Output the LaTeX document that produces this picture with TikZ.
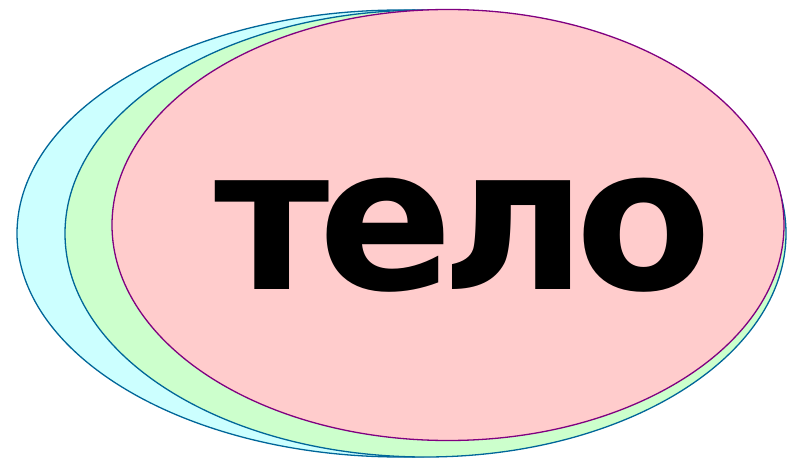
\documentclass[tikz,border=0pt]{standalone}
\usepackage{fontspec}
\setmainfont{DejaVu Sans}
\usetikzlibrary{shapes.geometric}
\definecolor{cyanfill}{HTML}{CCFFFF}
\definecolor{greenfill}{HTML}{CCFFCC}
\definecolor{pinkfill}{HTML}{FFCCCC}
\definecolor{blueline}{HTML}{006699}
\definecolor{purpleline}{HTML}{800080}
\begin{document}
\begin{tikzpicture}[x=1pt,y=1pt,
  blob/.style={line width=1.3pt}]
\useasboundingbox (0,0) rectangle (796,459);
\path[blob,fill=cyanfill,draw=blueline] (401,225.5) ellipse [x radius=384, y radius=223.5];
\path[blob,fill=greenfill,draw=blueline] (425.5,225.5) ellipse [x radius=360.5, y radius=223.5];
\path[blob,fill=pinkfill,draw=purpleline] (448,234) ellipse [x radius=336, y radius=215.5];
\node[inner sep=0pt, anchor=base west] (t) at (214.5,169.5) {\fontsize{199}{199}\selectfont\bfseries\addfontfeature{LetterSpace=-6}тело};
\end{tikzpicture}
\end{document}
